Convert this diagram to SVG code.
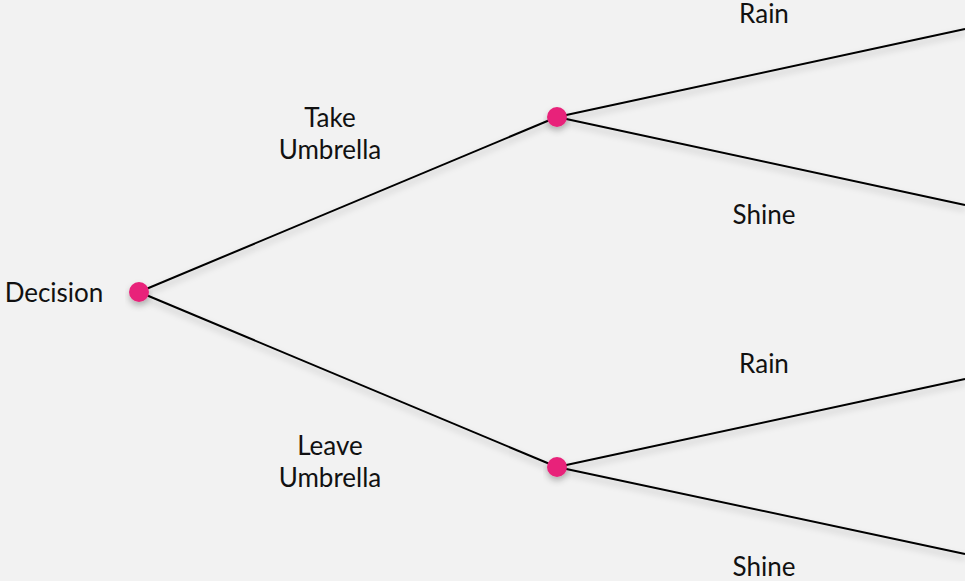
<svg xmlns="http://www.w3.org/2000/svg" width="965" height="581" viewBox="0 0 965 581">
<defs>
<filter id="sh" x="-20%" y="-50%" width="140%" height="200%">
<feDropShadow dx="0" dy="4" stdDeviation="3" flood-color="#000" flood-opacity="0.25"/>
</filter>
<style>
.e{stroke:#000;stroke-width:2;fill:none}
.n{fill:#E8247A}
.t{font-family:"Lato","Open Sans",sans-serif;font-size:26px;fill:#111;text-anchor:middle}
</style>
</defs>
<rect width="965" height="581" fill="#F2F2F2"/>
<g id="connectors" filter="url(#sh)">
<line class="e" x1="139" y1="292" x2="557" y2="117"/>
<line class="e" x1="139" y1="292" x2="557" y2="467"/>
<line class="e" x1="557" y1="117" x2="965" y2="29"/>
<line class="e" x1="557" y1="117" x2="965" y2="205"/>
<line class="e" x1="557" y1="467" x2="965" y2="379"/>
<line class="e" x1="557" y1="467" x2="965" y2="554"/>
</g>
<g id="decision"><circle class="n" cx="139" cy="292" r="10" filter="url(#sh)"/><text class="t" x="54" y="302">Decision</text></g>
<g id="take"><circle class="n" cx="557" cy="117" r="10" filter="url(#sh)"/><text class="t" x="330" y="127">Take</text><text class="t" x="330" y="159">Umbrella</text></g>
<g id="leave"><circle class="n" cx="557" cy="467" r="10" filter="url(#sh)"/><text class="t" x="330" y="455">Leave</text><text class="t" x="330" y="487">Umbrella</text></g>
<g id="rain1"><text class="t" x="764" y="23">Rain</text></g>
<g id="shine1"><text class="t" x="764" y="224">Shine</text></g>
<g id="rain2"><text class="t" x="764" y="373">Rain</text></g>
<g id="shine2"><text class="t" x="764" y="576">Shine</text></g>
</svg>
